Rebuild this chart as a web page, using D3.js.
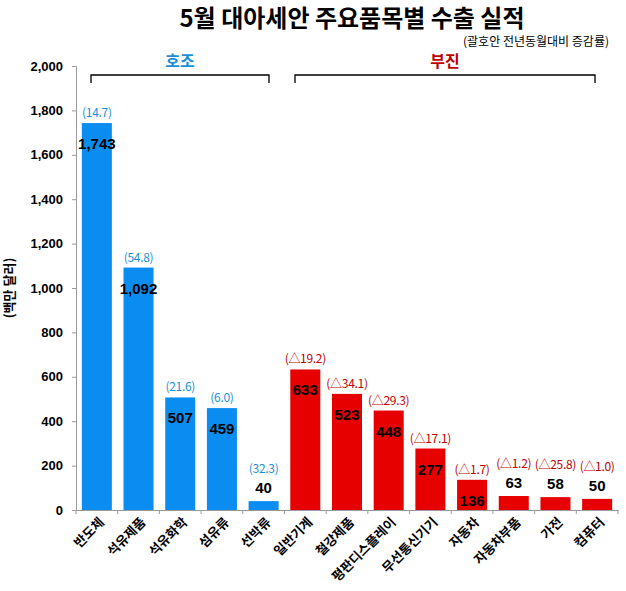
<!DOCTYPE html>
<html><head><meta charset="utf-8">
<script src="https://cdn.jsdelivr.net/npm/d3@7"></script>
<style>
body{margin:0;background:#fff;}
text{font-family:"Noto Sans CJK KR","Noto Sans",sans-serif;}
</style></head>
<body><svg id="c" width="626" height="591"></svg>
<script>
const categories = ["반도체","석유제품","석유화학","섬유류","선박류","일반기계","철강제품","평판디스플레이","무선통신기기","자동차","자동차부품","가전","컴퓨터"];
const values = [1743,1092,507,459,40,633,523,448,277,136,63,58,50];
const changes = ["(14.7)","(54.8)","(21.6)","(6.0)","(32.3)","(△19.2)","(△34.1)","(△29.3)","(△17.1)","(△1.7)","(△1.2)","(△25.8)","(△1.0)"];
const groups = ["호조","호조","호조","호조","호조","부진","부진","부진","부진","부진","부진","부진","부진"];
const yTicks = [0,200,400,600,800,1000,1200,1400,1600,1800,2000];

const svg = d3.select("#c");
const m = {left:76, right:8, top:66, bottom:81};
const x = d3.scaleBand().domain(categories).range([m.left, 618]).paddingInner(0.28).paddingOuter(0.14);
const y = d3.scaleLinear().domain([0,2000]).range([510, 66]);

const barColor = {"호조":"#0a8cf0","부진":"#e60000"};
const labColor = {"호조":"#1a8fd8","부진":"#c00000"};

// title
svg.append("text").attr("x",352).attr("y",27).attr("text-anchor","middle")
  .attr("font-size",24).attr("font-weight","bold").text("5월 대아세안 주요품목별 수출 실적");
svg.append("text").attr("x",609).attr("y",46).attr("text-anchor","end")
  .attr("font-size",12).text("(괄호안 전년동월대비 증감률)");

// y axis
const ya = svg.append("g").attr("transform",`translate(${m.left},0)`)
  .call(d3.axisLeft(y).tickValues(yTicks).tickSize(4).tickFormat(d3.format(",")));
ya.select(".domain").attr("stroke","#999");
ya.selectAll(".tick line").attr("stroke","#999");
ya.selectAll("text").attr("font-size",13).attr("font-weight","bold").attr("fill","#000").attr("x",-13)
  .style("font-family","'Liberation Sans',Arial,sans-serif");

svg.append("text").attr("transform","translate(14,288) rotate(-90)").attr("text-anchor","middle")
  .attr("font-size",13).attr("font-weight","bold").text("(백만 달러)");

// x axis
const xa = svg.append("g").attr("transform","translate(0,510)")
  .call(d3.axisBottom(x).tickSize(0).tickFormat(""));
xa.select(".domain").attr("stroke","#999");
const step = x.step();
svg.append("g").selectAll("line").data(d3.range(categories.length+1)).join("line")
  .attr("x1",i=>m.left + x.paddingOuter()*step - x.paddingInner()*step/2 + i*step)
  .attr("x2",i=>m.left + x.paddingOuter()*step - x.paddingInner()*step/2 + i*step)
  .attr("y1",510).attr("y2",514).attr("stroke","#999");

// bars
svg.append("g").selectAll("rect").data(categories).join("rect")
  .attr("x",d=>x(d)).attr("width",x.bandwidth())
  .attr("y",(d,i)=>y(values[i])).attr("height",(d,i)=>510-y(values[i]))
  .attr("fill",(d,i)=>barColor[groups[i]]);

// labels
const fmt = d3.format(",");
categories.forEach((c,i)=>{
  const cx = x(c)+x.bandwidth()/2;
  const top = y(values[i]);
  const inside = values[i] > 100;
  const vy = inside ? top+26 : top-8;
  svg.append("text").attr("x",cx).attr("y",vy).attr("text-anchor","middle")
    .attr("font-size",15).attr("font-weight","bold").attr("fill","#000")
    .style("font-family","'Liberation Sans',Arial,sans-serif").text(fmt(values[i]));
  const cy = inside ? top-6 : top-28;
  svg.append("text").attr("x",cx).attr("y",cy).attr("text-anchor","middle")
    .attr("font-size",12).attr("letter-spacing",-0.3).attr("fill",labColor[groups[i]]).text(changes[i]);
  // x label
  svg.append("text").attr("transform",`translate(${cx+8},${523}) rotate(-45)`).attr("text-anchor","end")
    .attr("font-size",13).attr("font-weight","bold").attr("fill","#000").text(c);
});

// brackets
const brackets = [
  {name:"호조", x1:91, x2:269, col:"#1a8fd8"},
  {name:"부진", x1:295, x2:595, col:"#c00000"}
];
brackets.forEach(b=>{
  svg.append("path").attr("d",`M${b.x1},83 V75 H${b.x2} V83`).attr("fill","none").attr("stroke","#000").attr("stroke-width",1.3);
  svg.append("text").attr("x",(b.x1+b.x2)/2).attr("y",67).attr("text-anchor","middle")
    .attr("font-size",16).attr("font-weight","bold").attr("fill",b.col).text(b.name);
});
</script></body></html>
